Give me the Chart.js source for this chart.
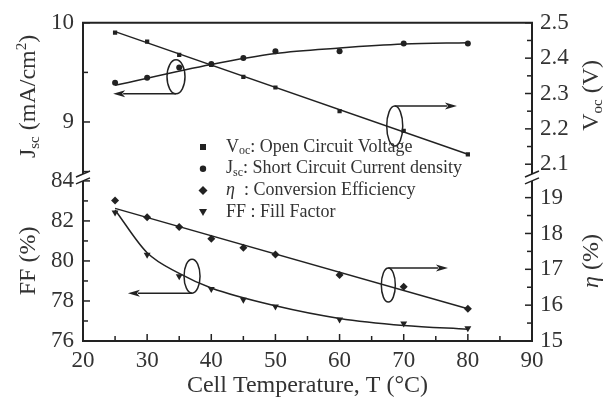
<!DOCTYPE html>
<html>
<head>
<meta charset="utf-8">
<script src="https://cdn.jsdelivr.net/npm/chart.js@4/dist/chart.umd.min.js"></script>
<style>
  html, body { margin: 0; padding: 0; background: #fff; }
  canvas { display: block; }
</style>
</head>
<body>
<canvas id="grafico" width="608" height="403"></canvas>
<script>
// ==============================
// DATA
// ==============================

// Cell temperature (°C)
const temps = [25, 30, 35, 40, 45, 50, 60, 70, 80];

// Measured values
const vocVals = [2.472, 2.447, 2.409, 2.381, 2.347, 2.317, 2.250, 2.194, 2.128];
const jscVals = [9.396, 9.446, 9.550, 9.584, 9.644, 9.713, 9.713, 9.792, 9.792];
const etaVals = [18.92, 18.45, 18.18, 17.85, 17.60, 17.41, 16.84, 16.51, 15.90];
const ffVals = [82.42, 80.31, 79.24, 78.60, 78.06, 77.72, 77.08, 76.88, 76.64];

// Fitted lines
const fitEnds = [25, 80];
const vocFit = [2.475, 2.128];
const etaFit = [18.70, 15.90];
const jscFitT = [25, 40, 50, 60, 70, 80];
const jscFit = [9.37, 9.58, 9.69, 9.745, 9.785, 9.80];
const ffFitT = [25, 30, 35, 40, 50, 60, 70, 80];
const ffFit = [82.55, 80.41, 79.38, 78.65, 77.76, 77.13, 76.78, 76.59];

// Tick labels
const tempLabels = [20, 30, 40, 50, 60, 70, 80, 90];
const jscLabels = [9, 10];
const ffLabels = [76, 78, 80, 82, 84];
const vocLabels = [2.1, 2.2, 2.3, 2.4, 2.5];
const etaLabels = [15, 16, 17, 18, 19];

// ==============================
// STYLE
// ==============================
const INK = "#222";
const TEXT = "#333";
const SERIF = "'Liberation Serif', 'Times New Roman', serif";

Chart.defaults.font.family = SERIF;
Chart.defaults.color = TEXT;

const puntos = (xs, ys) => xs.map((x, i) => ({ x: x, y: ys[i] }));
const hasLabel = (list, v) => list.some(l => Math.abs(l - v) < 1e-6);

function tickFont() {
  return { family: SERIF, size: 23 };
}

// ellipse + arrow callouts (data units, pixels for size)
const callouts = [
  { yAxis: "yJ", cx: 34.5, cy: 9.455, rx: 9, ry: 17, side: 1, toX: 24.7 },
  { yAxis: "yV", cx: 68.6, cy: 2.208, rx: 8, ry: 20, side: -1, toX: 78.3 },
  { yAxis: "yFF", cx: 37.0, cy: 79.24, rx: 8, ry: 17, side: 1, toX: 27.0 },
  { yAxis: "yEta", cx: 67.6, cy: 16.56, rx: 7, ry: 17, side: -1, toX: 76.9 }
];

// ==============================
// HELPERS
// ==============================
function drawRich(ctx, parts, x, y, rot) {
  ctx.save();
  ctx.translate(x, y);
  ctx.rotate(rot);
  ctx.textBaseline = "middle";
  ctx.textAlign = "left";
  ctx.fillStyle = TEXT;
  let total = 0;
  parts.forEach(p => {
    ctx.font = p.font;
    p.w = ctx.measureText(p.t).width;
    total += p.w;
  });
  let cx = -total / 2;
  parts.forEach(p => {
    ctx.font = p.font;
    ctx.fillText(p.t, cx, p.dy || 0);
    cx += p.w;
  });
  ctx.restore();
}

function drawRichLeft(ctx, parts, x, y) {
  ctx.save();
  ctx.textBaseline = "middle";
  ctx.textAlign = "left";
  ctx.fillStyle = TEXT;
  let cx = x;
  parts.forEach(p => {
    ctx.font = p.font;
    ctx.fillText(p.t, cx, y + (p.dy || 0));
    cx += ctx.measureText(p.t).width;
  });
  ctx.restore();
}

function drawMarker(ctx, style, x, y) {
  ctx.save();
  ctx.fillStyle = INK;
  ctx.beginPath();
  if (style === "rect") {
    ctx.rect(x - 3, y - 3, 6, 6);
  } else if (style === "circle") {
    ctx.arc(x, y, 3.2, 0, Math.PI * 2);
  } else if (style === "diamond") {
    ctx.moveTo(x, y - 4.5); ctx.lineTo(x + 4.5, y); ctx.lineTo(x, y + 4.5); ctx.lineTo(x - 4.5, y);
  } else {
    ctx.moveTo(x - 4, y - 3); ctx.lineTo(x + 4, y - 3); ctx.lineTo(x, y + 4);
  }
  ctx.closePath();
  ctx.fill();
  ctx.restore();
}

function drawTicks(ctx, scale, minor, major, side, area) {
  scale.ticks.forEach(t => {
    const v = t.value;
    if (Math.abs(v / minor - Math.round(v / minor)) > 1e-6) return;
    const isMajor = Math.abs(v / major - Math.round(v / major)) < 1e-6;
    const len = isMajor ? 7 : 5;
    const p = scale.getPixelForValue(v);
    ctx.beginPath();
    if (side === "left") { ctx.moveTo(area.left, p); ctx.lineTo(area.left + len, p); }
    if (side === "right") { ctx.moveTo(area.right, p); ctx.lineTo(area.right - len, p); }
    if (side === "bottom") { ctx.moveTo(p, area.bottom); ctx.lineTo(p, area.bottom - len); }
    ctx.stroke();
  });
}

// ==============================
// DECOR PLUGIN (frame, ticks, breaks, callouts, titles, legend)
// ==============================
const decor = {
  id: "decor",
  afterDraw(chart) {
    const ctx = chart.ctx;
    const a = chart.chartArea;
    const s = chart.scales;
    const topEnd = s.yJ.bottom;
    const botStart = s.yFF.top;

    ctx.save();
    ctx.strokeStyle = INK;
    ctx.lineCap = "butt";

    // frame
    ctx.lineWidth = 2;
    ctx.beginPath();
    ctx.moveTo(a.left, topEnd); ctx.lineTo(a.left, a.top); ctx.lineTo(a.right, a.top); ctx.lineTo(a.right, topEnd);
    ctx.moveTo(a.left, botStart); ctx.lineTo(a.left, a.bottom); ctx.lineTo(a.right, a.bottom); ctx.lineTo(a.right, botStart);
    ctx.stroke();

    // axis breaks
    ctx.lineWidth = 1.5;
    [a.left, a.right].forEach(x => {
      [topEnd, botStart].forEach(y => {
        ctx.beginPath();
        ctx.moveTo(x - 7, y + 3);
        ctx.lineTo(x + 7, y - 3);
        ctx.stroke();
      });
    });

    // ticks
    ctx.lineWidth = 1.5;
    drawTicks(ctx, s.x, 5, 10, "bottom", a);
    drawTicks(ctx, s.yJ, 0.5, 1, "left", a);
    drawTicks(ctx, s.yFF, 1, 2, "left", a);
    drawTicks(ctx, s.yV, 0.05, 0.1, "right", a);
    drawTicks(ctx, s.yEta, 0.5, 1, "right", a);

    // callouts
    ctx.lineWidth = 1.5;
    ctx.fillStyle = INK;
    callouts.forEach(c => {
      const cx = s.x.getPixelForValue(c.cx);
      const cy = s[c.yAxis].getPixelForValue(c.cy);
      ctx.beginPath();
      ctx.ellipse(cx, cy, c.rx, c.ry, 0, 0, Math.PI * 2);
      ctx.stroke();
      const ay = cy + c.side * c.ry;
      const tx = s.x.getPixelForValue(c.toX);
      const dir = tx < cx ? -1 : 1;
      ctx.beginPath();
      ctx.moveTo(cx, ay);
      ctx.lineTo(tx - dir * 10, ay);
      ctx.stroke();
      ctx.beginPath();
      ctx.moveTo(tx, ay);
      ctx.lineTo(tx - dir * 12, ay - 3.5);
      ctx.lineTo(tx - dir * 9, ay);
      ctx.lineTo(tx - dir * 12, ay + 3.5);
      ctx.closePath();
      ctx.fill();
    });
    ctx.restore();

    // axis titles
    const big = "24px " + SERIF;
    const sub = "15px " + SERIF;
    const rot = -Math.PI / 2;
    const topMid = (a.top + topEnd) / 2;
    const botMid = (botStart + a.bottom) / 2;
    drawRich(ctx, [
      { t: "J", font: big }, { t: "sc", font: sub, dy: 6 },
      { t: " (mA/cm", font: big }, { t: "2", font: sub, dy: -7 }, { t: ")", font: big }
    ], 29, topMid - 2, rot);
    drawRich(ctx, [{ t: "FF (%)", font: big }], 29, botMid, rot);
    drawRich(ctx, [
      { t: "V", font: big }, { t: "oc", font: sub, dy: 6 }, { t: " (V)", font: big }
    ], 592, topMid - 3, rot);
    drawRich(ctx, [
      { t: "\u03B7", font: "italic 24px " + SERIF }, { t: " (%)", font: big }
    ], 592, botMid, rot);
    drawRich(ctx, [{ t: "Cell Temperature, T (\u00B0C)", font: big }], (a.left + a.right) / 2, 386, 0);

    // legend
    const lf = "18px " + SERIF;
    const ls = "12px " + SERIF;
    const rows = [
      { m: "rect", parts: [{ t: "V", font: lf }, { t: "oc", font: ls, dy: 4 }, { t: ": Open Circuit Voltage", font: lf }] },
      { m: "circle", parts: [{ t: "J", font: lf }, { t: "sc", font: ls, dy: 4 }, { t: ": Short Circuit Current density", font: lf }] },
      { m: "diamond", parts: [{ t: "\u03B7", font: "italic 18px " + SERIF }, { t: "  : Conversion Efficiency", font: lf }] },
      { m: "triangle", parts: [{ t: "FF : Fill Factor", font: lf }] }
    ];
    rows.forEach((r, i) => {
      const y = 147 + i * 21.7;
      drawMarker(ctx, r.m, 203, y);
      drawRichLeft(ctx, r.parts, 226, y);
    });
  }
};

// ==============================
// CHART
// ==============================
const lineBase = { borderColor: INK, borderWidth: 1.5, pointRadius: 0, fill: false };
const markBase = { showLine: false, backgroundColor: INK, borderColor: INK, borderWidth: 0 };

const ctx = document.getElementById("grafico").getContext("2d");

new Chart(ctx, {
  type: "line",
  data: {
    datasets: [
      { ...lineBase, label: "Voc fit", data: puntos(fitEnds, vocFit), yAxisID: "yV" },
      { ...lineBase, label: "Jsc fit", data: puntos(jscFitT, jscFit), yAxisID: "yJ", cubicInterpolationMode: "monotone" },
      { ...lineBase, label: "eta fit", data: puntos(fitEnds, etaFit), yAxisID: "yEta" },
      { ...lineBase, label: "FF fit", data: puntos(ffFitT, ffFit), yAxisID: "yFF", cubicInterpolationMode: "monotone" },
      { ...markBase, label: "Voc", data: puntos(temps, vocVals), yAxisID: "yV", pointStyle: "rect", pointRadius: 3 },
      { ...markBase, label: "Jsc", data: puntos(temps, jscVals), yAxisID: "yJ", pointStyle: "circle", pointRadius: 3 },
      { ...markBase, label: "eta", data: puntos(temps, etaVals), yAxisID: "yEta", pointStyle: "rectRot", pointRadius: 4 },
      { ...markBase, label: "FF", data: puntos(temps, ffVals), yAxisID: "yFF", pointStyle: "triangle", pointRotation: 180, pointRadius: 4 }
    ]
  },
  options: {
    responsive: false,
    animation: false,
    events: [],
    devicePixelRatio: 1,
    layout: { padding: { top: 17, left: 0, right: 0, bottom: 0 } },
    plugins: { legend: { display: false }, tooltip: { enabled: false } },
    scales: {
      x: {
        type: "linear", position: "bottom", min: 20, max: 90,
        grid: { display: false, drawTicks: false }, border: { display: false },
        ticks: {
          stepSize: 5, autoSkip: false, maxRotation: 0, padding: 6, font: tickFont, color: TEXT,
          callback: v => hasLabel(tempLabels, v) ? String(v) : ""
        },
        afterFit: sc => { sc.height = 62; }
      },
      yJ: {
        type: "linear", position: "left", stack: "left", stackWeight: 154, weight: 3,
        min: 8.475, max: 10,
        grid: { display: false, drawTicks: false }, border: { display: false },
        ticks: {
          stepSize: 0.5, autoSkip: false, includeBounds: false, padding: 9, font: tickFont, color: TEXT,
          callback: v => hasLabel(jscLabels, v) ? String(v) : ""
        },
        afterFit: sc => { sc.width = 83; }
      },
      gapL: {
        type: "linear", position: "left", stack: "left", stackWeight: 7, weight: 2,
        grid: { display: false, drawTicks: false }, border: { display: false },
        ticks: { display: false }
      },
      yFF: {
        type: "linear", position: "left", stack: "left", stackWeight: 163, weight: 1,
        min: 76, max: 84,
        grid: { display: false, drawTicks: false }, border: { display: false },
        ticks: {
          stepSize: 1, autoSkip: false, includeBounds: false, padding: 9, font: tickFont, color: TEXT,
          callback: v => hasLabel(ffLabels, v) ? String(v) : ""
        },
        afterFit: sc => { sc.width = 83; }
      },
      yV: {
        type: "linear", position: "right", stack: "right", stackWeight: 154, weight: 1,
        min: 2.0722, max: 2.5,
        grid: { display: false, drawTicks: false }, border: { display: false },
        ticks: {
          stepSize: 0.05, autoSkip: false, includeBounds: false, padding: 8, font: tickFont, color: TEXT,
          callback: v => hasLabel(vocLabels, v) ? v.toFixed(1) : ""
        },
        afterFit: sc => { sc.width = 76; }
      },
      gapR: {
        type: "linear", position: "right", stack: "right", stackWeight: 7, weight: 2,
        grid: { display: false, drawTicks: false }, border: { display: false },
        ticks: { display: false }
      },
      yEta: {
        type: "linear", position: "right", stack: "right", stackWeight: 163, weight: 3,
        min: 15, max: 19.466,
        grid: { display: false, drawTicks: false }, border: { display: false },
        ticks: {
          stepSize: 0.5, autoSkip: false, includeBounds: false, padding: 8, font: tickFont, color: TEXT,
          callback: v => hasLabel(etaLabels, v) ? String(v) : ""
        },
        afterFit: sc => { sc.width = 76; }
      }
    }
  },
  plugins: [decor]
});
</script>
</body>
</html>
